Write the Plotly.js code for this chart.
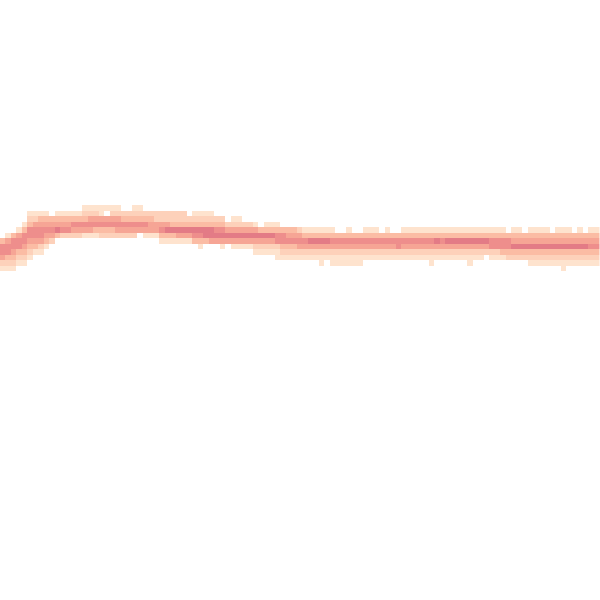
<!DOCTYPE html>
<html>
<head>
<meta charset="utf-8">
<script src="https://cdn.plot.ly/plotly-3.0.1.min.js"></script>
<style>html,body{margin:0;padding:0;background:#fff;}#chart{width:600px;height:600px;}</style>
</head>
<body>
<div id="chart"></div>
<script>
// Density band: for each column bin, the first row bin and the
// density levels (1 = lowest .. 6 = highest, 0 = empty) going downward.
const colStart = [43,42,42,41,40,38,38,38,38,39,38,38,38,38,38,37,37,37,37,37,37,37,38,38,37,37,38,38,38,38,38,38,38,38,39,38,38,38,38,39,39,40,39,39,40,40,40,41,40,40,40,41,41,41,41,41,41,41,41,41,41,42,42,41,42,42,41,41,41,42,41,42,42,41,41,41,41,41,41,41,41,41,41,41,41,41,41,41,41,41,41,41,42,41,41,42,41,41,41,41,42,41,41,41,42,41,42,41,41];
const colLevels = ["355421","1455321","3554321","1455321","13554321","123554321","12455431","13455421","1345431","34542","13463","13452","13452","13542","13542","123541","124541","124531","114532","104532","124532","124542","23542","23542","123542","12354","23541","23441","22441","224531","224631","223631","223641","223641","23641","123653","1236531","123663","123664","23564","235641","2464","124641","124641","24641","24641","146421","36421","136421","136421","1355211","355321","345321","345321","245421","135421","136421","136421","1364211","136421","1354211","354211","354211","1354211","354211","354211","135421","135421","135421","35421","135421","35421","35521","135421","135421","135421","135421","135421","1354211","136421","135421","136421","136421","136421","136421","1364211","136421","136421","13642","135521","135521","135531","35532","134632","134632","34632","1346321","1346321","1346321","1346321","346321","1346321","13463211","1346321","346321","1346321","346321","1345321","1345321"];
const rowMin = 36, rowMax = 49;
const levelColors = ["rgb(254,227,206)","rgb(253,209,186)","rgb(251,188,164)","rgb(246,165,149)","rgb(238,142,140)","rgb(227,123,134)"];

const nCols = colLevels.length;
const xs = [], ys = [];
for (let i = 0; i < nCols; i++) xs.push(i);
for (let r = rowMin; r <= rowMax; r++) ys.push(r);
const z = ys.map(() => xs.map(() => null));
colLevels.forEach((s, c) => {
  for (let k = 0; k < s.length; k++) {
    const v = +s[k];
    if (v > 0) z[colStart[c] + k - rowMin][c] = v;
  }
});
const cs = levelColors.map((col, i) => [i / (levelColors.length - 1), col]);

Plotly.newPlot('chart', [{
  type: 'heatmap', x: xs, y: ys, z: z,
  zmin: 1, zmax: 6, colorscale: cs, showscale: false,
  hoverongaps: false, xgap: 0, ygap: 0
}], {
  width: 600, height: 600,
  margin: {l: 0, r: 0, t: 0, b: 0, pad: 0},
  paper_bgcolor: '#ffffff', plot_bgcolor: '#ffffff',
  xaxis: {visible: false, range: [-0.409, 108.68], fixedrange: true},
  yaxis: {visible: false, range: [108.32, -0.773], fixedrange: true},
  showlegend: false
}, {displayModeBar: false, staticPlot: true});
</script>
</body>
</html>
